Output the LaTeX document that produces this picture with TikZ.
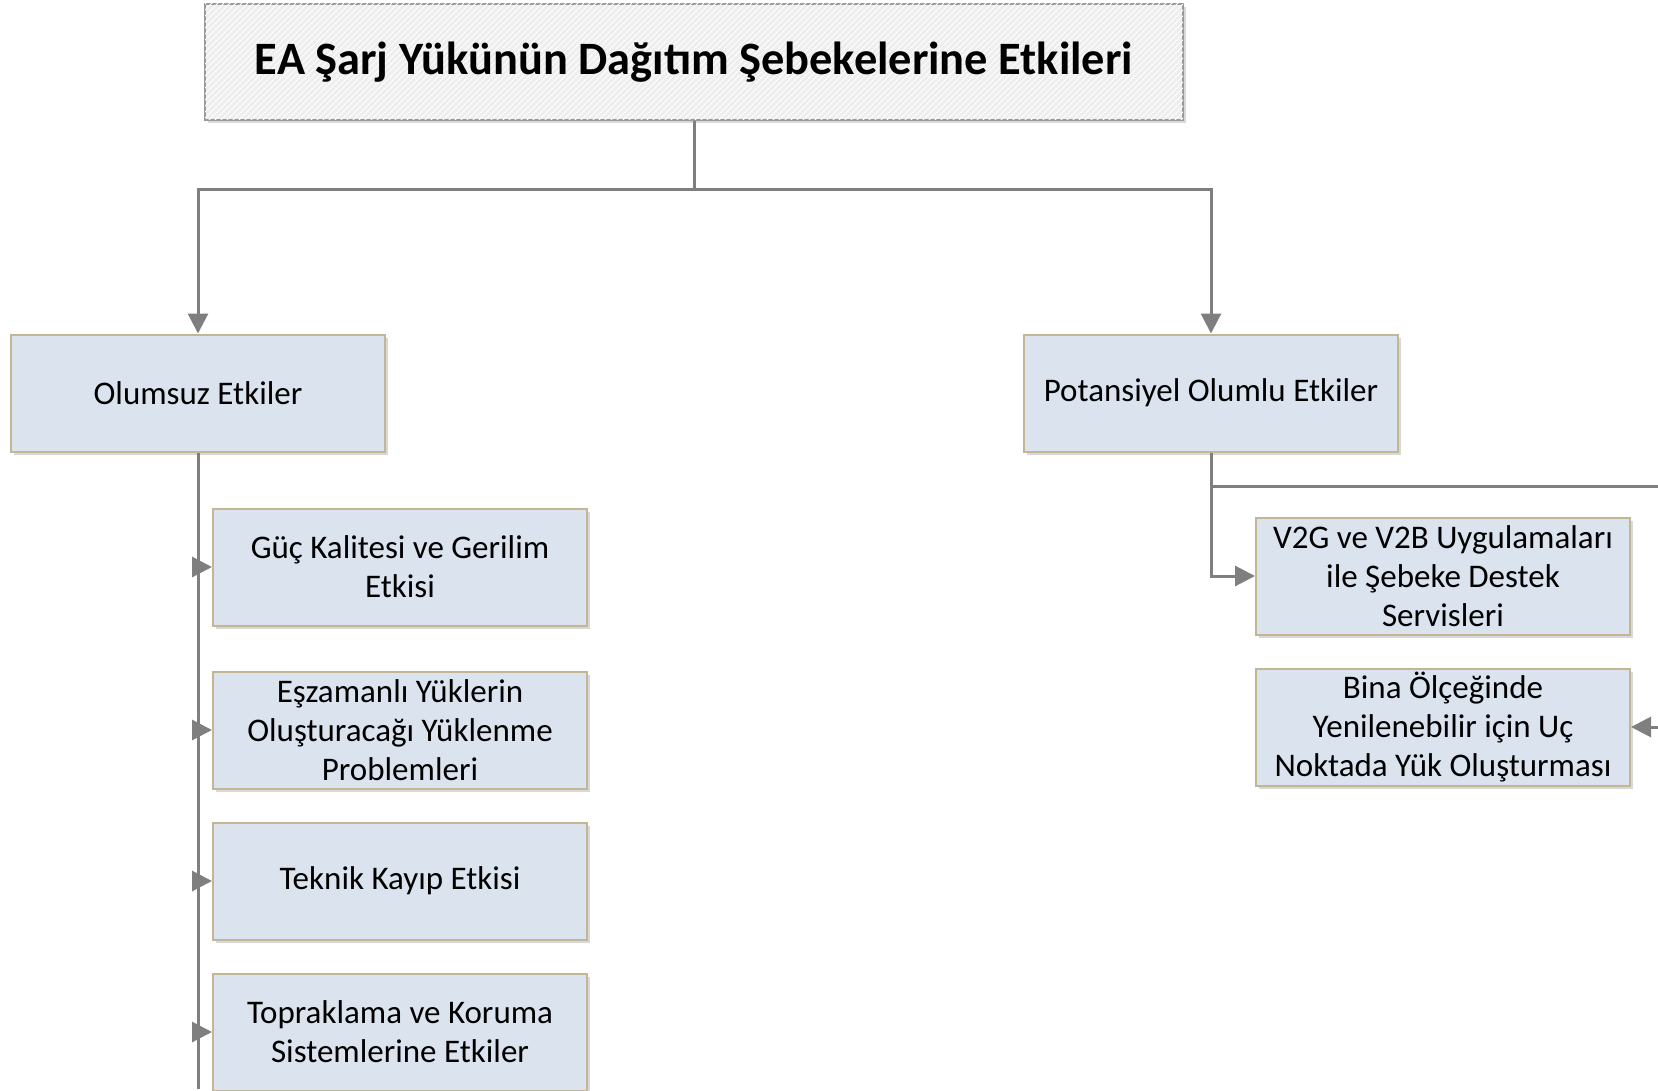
\documentclass[tikz,border=0pt]{standalone}
\usepackage{fontspec}
\setmainfont{Carlito}
\usepackage{xcolor}
\usetikzlibrary{arrows.meta,shadows,patterns}
\definecolor{boxfill}{HTML}{DAE3EE}
\definecolor{boxline}{HTML}{C3B694}
\definecolor{linkgray}{HTML}{7F7F7F}
\definecolor{titlefill}{HTML}{EEEEEE}
\begin{document}
\begin{tikzpicture}[x=0.5pt, y=-0.5pt,
    box/.style={draw=boxline, line width=1pt, fill=boxfill, align=center,
      minimum width=187pt, minimum height=58.5pt, inner sep=0pt,
      font=\fontsize{16.5}{19.5}\selectfont,
      drop shadow={shadow xshift=1.5pt, shadow yshift=-1.5pt, fill=black!30}},
    link/.style={draw=linkgray, line width=1.5pt},
    >={Triangle[length=10pt, width=10pt]}]
  \useasboundingbox (0,0) rectangle (1658,1091);

  \node[box, draw=black!40, fill=titlefill, minimum width=489pt, minimum height=58pt,
    font=\fontsize{23.2}{27}\selectfont\bfseries,
    postaction={pattern=north east lines, pattern color=white}]
    (title) at (694,62) {EA Şarj Yükünün Dağıtım Şebekelerine Etkileri};

  \node[box] (neg) at (198,393) {Olumsuz Etkiler};
  \node[box] (pos) at (1211,393) {Potansiyel Olumlu Etkiler};

  \node[box] (guc) at (400,567) {Güç Kalitesi ve Gerilim\\Etkisi};
  \node[box] (eszaman) at (400,730) {Eşzamanlı Yüklerin\\Oluşturacağı Yüklenme\\Problemleri};
  \node[box] (kayip) at (400,881) {Teknik Kayıp Etkisi};
  \node[box] (toprak) at (400,1032) {Topraklama ve Koruma\\Sistemlerine Etkiler};

  \node[box] (v2g) at (1443,576) {V2G ve V2B Uygulamaları\\ile Şebeke Destek\\Servisleri};
  \node[box] (bina) at (1443,727) {Bina Ölçeğinde\\Yenilenebilir için Uç\\Noktada Yük Oluşturması};

  \coordinate (split) at (694,190);
  \coordinate (negend) at (198,1089);
  \coordinate (posturn) at (1211,486);
  \coordinate (posend) at (1658,486);
  \coordinate (binain) at (1658,727);

  \draw[link] (title.south) -- (split);
  \draw[link, ->] (split) -| (neg.north);
  \draw[link, ->] (split) -| (pos.north);

  \draw[link] (neg.south) -- (negend);
  \foreach \n in {guc, eszaman, kayip, toprak}
    \draw[link, ->] (neg.south |- \n.west) -- (\n.west);

  \draw[link] (pos.south) -- (posturn) -- (posend);
  \draw[link, ->] (pos.south) |- (v2g.west);
  \draw[link, ->] (binain) -- (bina.east);
\end{tikzpicture}
\end{document}
